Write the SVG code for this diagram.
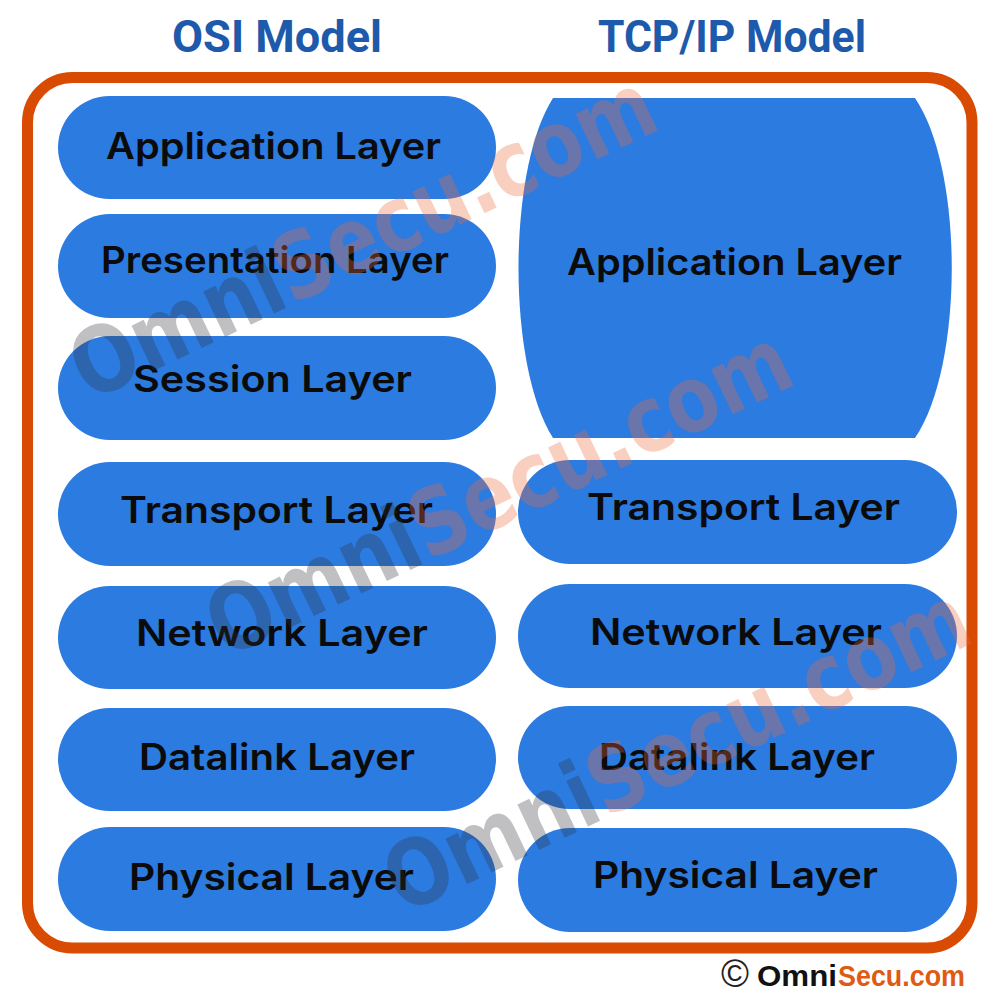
<svg xmlns="http://www.w3.org/2000/svg" width="1000" height="1000" viewBox="0 0 1000 1000">
  <style>
    .head { font-family: Roboto, "Liberation Sans", sans-serif; font-weight: 700; font-size: 44px; fill: #1d5aab; }
    .pill { fill: #2b7be1; }
    .lbl { font-family: Inter, "Liberation Sans", sans-serif; font-weight: 600; font-size: 37px; fill: #0b0b0b; }
    .wm { font-family: Verdana, "DejaVu Sans", "Liberation Sans", sans-serif; font-weight: 700; font-size: 92px; }
    .wm1 { fill: #303038; fill-opacity: 0.3; }
    .wm2 { fill: #ec6a3a; fill-opacity: 0.32; }
    .copy { font-family: "Liberation Sans", Arial, sans-serif; font-weight: 700; font-size: 29px; }
  </style>
  <rect x="0" y="0" width="1000" height="1000" fill="#ffffff"/>

  <g id="headings">
    <text class="head" x="172" y="52" textLength="210" lengthAdjust="spacingAndGlyphs">OSI Model</text>
    <text class="head" x="598" y="52" textLength="268" lengthAdjust="spacingAndGlyphs">TCP/IP Model</text>
  </g>

  <g id="frame">
    <rect x="27.5" y="77.5" width="944.5" height="870.5" rx="45" ry="45" fill="#ffffff" stroke="#d94a02" stroke-width="11"/>
  </g>

  <g id="osi-application">
    <rect class="pill" x="58" y="96" width="438" height="103" rx="51.5"/>
    <text class="lbl" x="106" y="159" textLength="335" lengthAdjust="spacingAndGlyphs">Application Layer</text>
  </g>
  <g id="osi-presentation">
    <rect class="pill" x="58" y="214" width="438" height="104" rx="52"/>
    <text class="lbl" x="101" y="273" textLength="348" lengthAdjust="spacingAndGlyphs">Presentation Layer</text>
  </g>
  <g id="osi-session">
    <rect class="pill" x="58" y="336" width="438" height="104" rx="52"/>
    <text class="lbl" x="133" y="392" textLength="279" lengthAdjust="spacingAndGlyphs">Session Layer</text>
  </g>
  <g id="osi-transport">
    <rect class="pill" x="58" y="462" width="438" height="104" rx="52"/>
    <text class="lbl" x="120" y="523" textLength="313" lengthAdjust="spacingAndGlyphs">Transport Layer</text>
  </g>
  <g id="osi-network">
    <rect class="pill" x="58" y="586" width="438" height="103" rx="51.5"/>
    <text class="lbl" x="136" y="646" textLength="292" lengthAdjust="spacingAndGlyphs">Network Layer</text>
  </g>
  <g id="osi-datalink">
    <rect class="pill" x="58" y="708" width="438" height="103" rx="51.5"/>
    <text class="lbl" x="139" y="770" textLength="276" lengthAdjust="spacingAndGlyphs">Datalink Layer</text>
  </g>
  <g id="osi-physical">
    <rect class="pill" x="58" y="827" width="438" height="104" rx="52"/>
    <text class="lbl" x="129" y="890" textLength="285" lengthAdjust="spacingAndGlyphs">Physical Layer</text>
  </g>

  <g id="tcpip-application">
    <path class="pill" d="M553,98 H915 C964,170 964,366 915,438 H553 C507,366 507,170 553,98 Z"/>
    <text class="lbl" x="567" y="275" textLength="335" lengthAdjust="spacingAndGlyphs">Application Layer</text>
  </g>
  <g id="tcpip-transport">
    <rect class="pill" x="518" y="460" width="439" height="104" rx="52"/>
    <text class="lbl" x="587" y="520" textLength="313" lengthAdjust="spacingAndGlyphs">Transport Layer</text>
  </g>
  <g id="tcpip-network">
    <rect class="pill" x="518" y="584" width="439" height="104" rx="52"/>
    <text class="lbl" x="590" y="645" textLength="292" lengthAdjust="spacingAndGlyphs">Network Layer</text>
  </g>
  <g id="tcpip-datalink">
    <rect class="pill" x="518" y="706" width="439" height="103" rx="51.5"/>
    <text class="lbl" x="599" y="770" textLength="276" lengthAdjust="spacingAndGlyphs">Datalink Layer</text>
  </g>
  <g id="tcpip-physical">
    <rect class="pill" x="518" y="828" width="439" height="104" rx="52"/>
    <text class="lbl" x="593" y="888" textLength="285" lengthAdjust="spacingAndGlyphs">Physical Layer</text>
  </g>

  <g id="connectors"></g>

  <g id="watermarks">
    <text class="wm" transform="translate(362,235) rotate(-25.5)" x="-318" y="33" textLength="636" lengthAdjust="spacingAndGlyphs"><tspan class="wm1">Omni</tspan><tspan class="wm2">Secu.com</tspan></text>
    <text class="wm" transform="translate(498,491) rotate(-25.7)" x="-318" y="33" textLength="636" lengthAdjust="spacingAndGlyphs"><tspan class="wm1">Omni</tspan><tspan class="wm2">Secu.com</tspan></text>
    <text class="wm" transform="translate(676,748) rotate(-25.5)" x="-318" y="33" textLength="636" lengthAdjust="spacingAndGlyphs"><tspan class="wm1">Omni</tspan><tspan class="wm2">Secu.com</tspan></text>
  </g>

  <g id="copyright">
    <text x="721" y="987" font-family="'Liberation Sans', Arial, sans-serif" font-size="38" fill="#222222">©</text>
    <text class="copy" x="757" y="986" fill="#111111" textLength="80" lengthAdjust="spacingAndGlyphs">Omni</text>
    <text class="copy" x="838" y="986" fill="#e05a12" textLength="127" lengthAdjust="spacingAndGlyphs">Secu.com</text>
  </g>
</svg>
